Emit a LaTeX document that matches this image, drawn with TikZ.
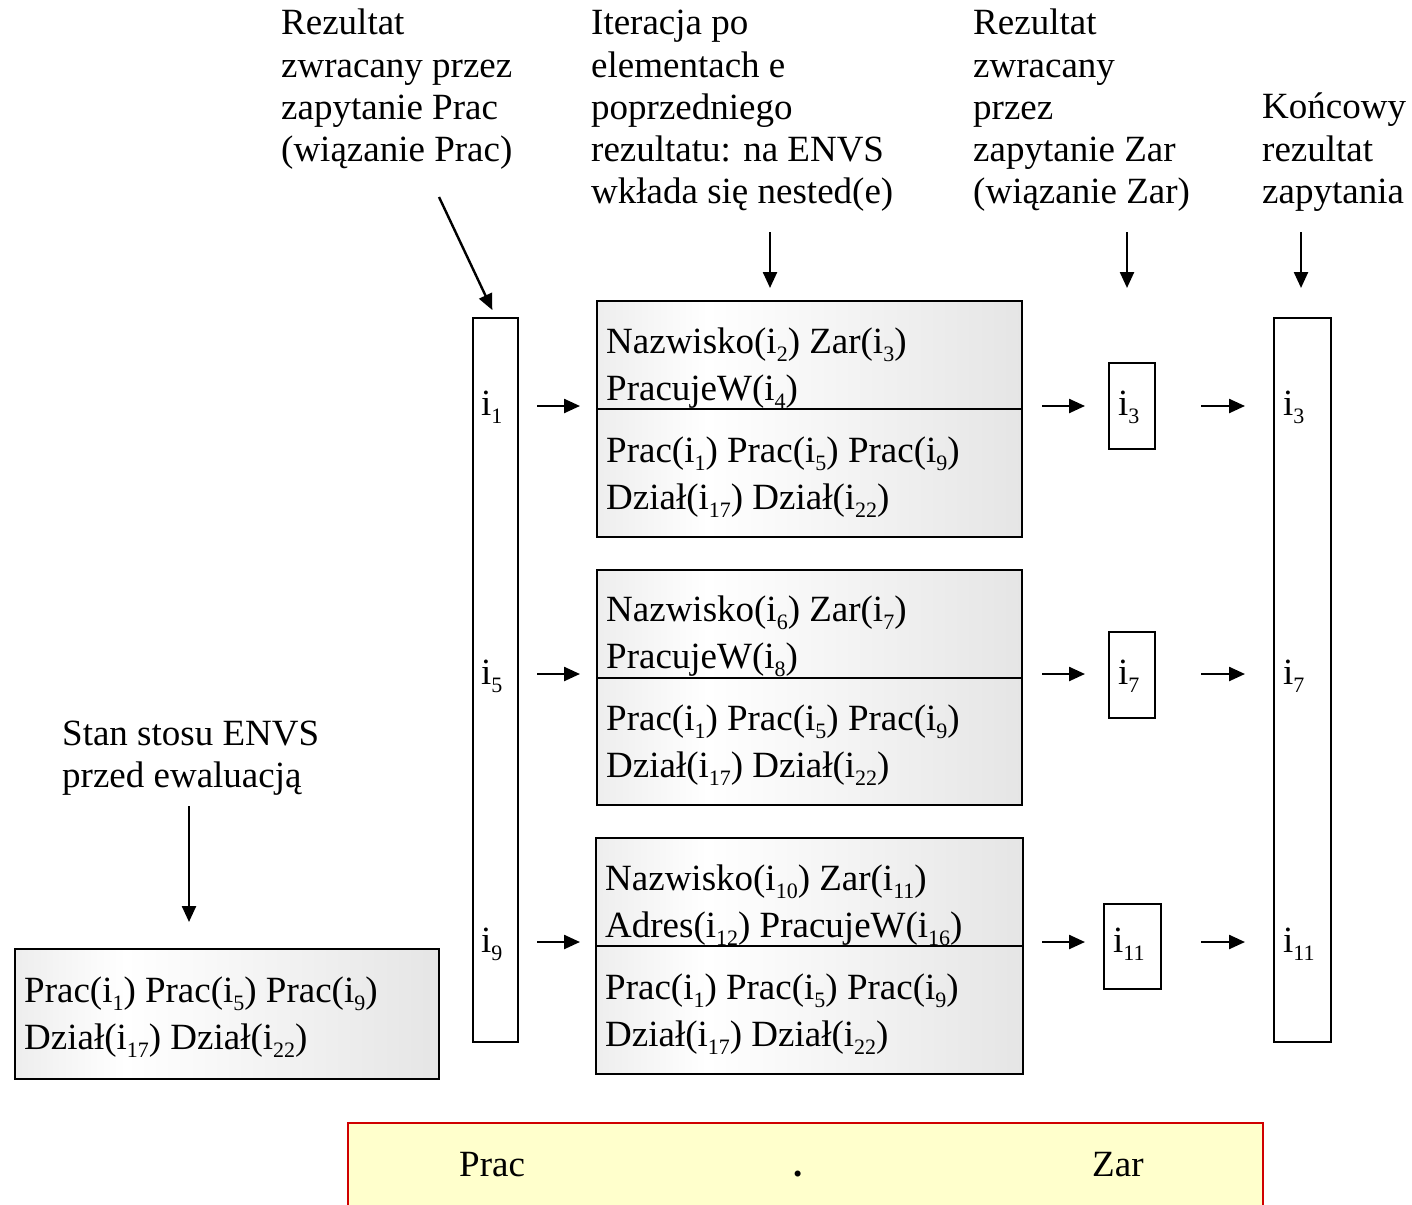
\documentclass[tikz,border=0pt]{standalone}
\usepackage{fontspec}
\setmainfont{Liberation Serif}
\usetikzlibrary{arrows.meta}

\definecolor{exprfill}{HTML}{FFFFCC}
\definecolor{exprline}{HTML}{D00000}
\pgfdeclarehorizontalshading{boxgrad}{100bp}{color(0bp)=(black!20); color(38bp)=(white); color(100bp)=(black!17)}

% object identifier with a lowered index
\newcommand\ix[1]{i\raisebox{-0.24em}{\fontsize{22}{22}\selectfont #1}}
\newcommand\boxfont{\fontsize{37}{47}\selectfont}
\newcommand\labfont{\fontsize{37}{42}\selectfont}

\begin{document}
\begin{tikzpicture}[x=1pt,y=-1pt,
  frame/.style={draw, line width=2.2pt, inner sep=0pt, anchor=north west},
  envs/.style={frame, shading=boxgrad},
  txt/.style={anchor=base west, inner sep=0pt, font=\boxfont},
  lab/.style={anchor=base west, inner sep=0pt, font=\labfont},
  arr/.style={line width=2.4pt, -{Triangle[length=16pt,width=14pt]}}]

\useasboundingbox (0,0) rectangle (1412,1204);

% result of the first subquery and final result columns
\node[frame, minimum width=45, minimum height=724] (col1) at (472,317) {};
\node[frame, minimum width=57, minimum height=724] (col2) at (1273,317) {};

% ENVS states for each iteration
\node[envs, minimum width=425, minimum height=108] (b1top) at (596,300) {};
\node[envs, minimum width=425, minimum height=128] (b1bot) at (596,408) {};
\node[envs, minimum width=425, minimum height=108] (b2top) at (596,569) {};
\node[envs, minimum width=425, minimum height=127] (b2bot) at (596,677) {};
\node[envs, minimum width=427, minimum height=108] (b3top) at (595,837) {};
\node[envs, minimum width=427, minimum height=128] (b3bot) at (595,945) {};

% initial ENVS state
\node[envs, minimum width=424, minimum height=130] (env0) at (14,948) {};

% results of the second subquery
\node[frame, minimum width=46, minimum height=86] (r1) at (1108,362) {};
\node[frame, minimum width=46, minimum height=86] (r2) at (1108,631) {};
\node[frame, minimum width=57, minimum height=85] (r3) at (1103,903) {};

% query expression
\node[frame, draw=exprline, fill=exprfill, minimum width=915, minimum height=100] (expr) at (347,1122) {};
\node[txt] (eprac) at (459,1176) {Prac};
\node[txt, anchor=base] (edot) at (798,1176) {\textbf{.}};
\node[txt] (ezar) at (1092,1176) {Zar};

% box contents
\node[txt] (t11) at (606,353) {Nazwisko(\ix2) Zar(\ix3)};
\node[txt] (t12) at (606,400) {PracujeW(\ix4)};
\node[txt] (t13) at (606,462) {Prac(\ix1) Prac(\ix5) Prac(\ix9)};
\node[txt] (t14) at (606,509) {Dział(\ix{17}) Dział(\ix{22})};

\node[txt] (t21) at (606,621) {Nazwisko(\ix6) Zar(\ix7)};
\node[txt] (t22) at (606,668) {PracujeW(\ix8)};
\node[txt] (t23) at (606,730) {Prac(\ix1) Prac(\ix5) Prac(\ix9)};
\node[txt] (t24) at (606,777) {Dział(\ix{17}) Dział(\ix{22})};

\node[txt] (t31) at (605,890) {Nazwisko(\ix{10}) Zar(\ix{11})};
\node[txt] (t32) at (605,937) {Adres(\ix{12}) PracujeW(\ix{16})};
\node[txt] (t33) at (605,999) {Prac(\ix1) Prac(\ix5) Prac(\ix9)};
\node[txt] (t34) at (605,1046) {Dział(\ix{17}) Dział(\ix{22})};

\node[txt] (e1) at (24,1002) {Prac(\ix1) Prac(\ix5) Prac(\ix9)};
\node[txt] (e2) at (24,1049) {Dział(\ix{17}) Dział(\ix{22})};

% identifiers
\node[txt] (c11) at (481,415) {\ix1};
\node[txt] (c12) at (481,684) {\ix5};
\node[txt] (c13) at (481,952) {\ix9};
\node[txt] (s1) at (1118,415) {\ix3};
\node[txt] (s2) at (1118,684) {\ix7};
\node[txt] (s3) at (1113,952) {\ix{11}};
\node[txt] (c21) at (1283,415) {\ix3};
\node[txt] (c22) at (1283,684) {\ix7};
\node[txt] (c23) at (1283,952) {\ix{11}};

% captions
\foreach \t [count=\k] in {Rezultat, zwracany przez, zapytanie Prac, (wiązanie Prac)}
  \node[lab] (la\k) at (281,{35+42.2*(\k-1)}) {\t};
\foreach \t [count=\k] in {Iteracja po, elementach e, poprzedniego, rezultatu: na ENVS, wkłada się nested(e)}
  \node[lab] (lb\k) at (591,{35+42.2*(\k-1)}) {\t};
\foreach \t [count=\k] in {Rezultat, zwracany, przez, zapytanie Zar, (wiązanie Zar)}
  \node[lab] (lc\k) at (973,{35+42.2*(\k-1)}) {\t};
\foreach \t [count=\k] in {Końcowy, rezultat, zapytania}
  \node[lab] (ld\k) at (1262,{119+42.2*(\k-1)}) {\t};
\foreach \t [count=\k] in {Stan stosu ENVS, przed ewaluacją}
  \node[lab] (le\k) at (62,{745+42.2*(\k-1)}) {\t};

% caption pointers
\coordinate (pa) at (439,197);
\coordinate (pb) at (770,232);
\coordinate (pc) at (1127,232);
\coordinate (pd) at (1301,232);
\coordinate (pe) at (189,806);
\draw[arr, shorten >=7.7pt] (pa) -- (col1.north);
\draw[arr, shorten >=12pt] (pb) -- (b1top.north -| pb);
\draw[arr, shorten >=74pt] (pc) -- (r1.north -| pc);
\draw[arr, shorten >=29pt] (pd) -- (col2.north -| pd);
\draw[arr, shorten >=26pt] (pe) -- (env0.north -| pe);

% iteration rows
\coordinate (row1) at (0,406);
\coordinate (row2) at (0,674);
\coordinate (row3) at (0,942);
\draw[arr, shorten <=18pt, shorten >=16pt] (col1.east |- row1) -- (b1top.west |- row1);
\draw[arr, shorten <=18pt, shorten >=16pt] (col1.east |- row2) -- (b2top.west |- row2);
\draw[arr, shorten <=18pt, shorten >=15pt] (col1.east |- row3) -- (b3top.west |- row3);
\draw[arr, shorten <=19pt, shorten >=23pt] (b1top.east |- row1) -- (r1.west |- row1);
\draw[arr, shorten <=19pt, shorten >=23pt] (b2top.east |- row2) -- (r2.west |- row2);
\draw[arr, shorten <=18pt, shorten >=18pt] (b3top.east |- row3) -- (r3.west |- row3);
\draw[arr, shorten <=45pt, shorten >=28pt] (r1.east |- row1) -- (col2.west |- row1);
\draw[arr, shorten <=45pt, shorten >=28pt] (r2.east |- row2) -- (col2.west |- row2);
\draw[arr, shorten <=39pt, shorten >=28pt] (r3.east |- row3) -- (col2.west |- row3);
\end{tikzpicture}
\end{document}
